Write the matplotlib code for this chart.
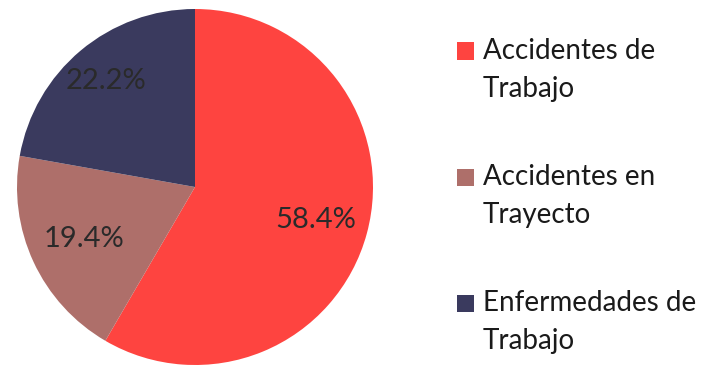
import matplotlib
matplotlib.use("Agg")
import matplotlib.pyplot as plt
from matplotlib.patches import Rectangle
import numpy as np

categories = ["Accidentes de\nTrabajo", "Accidentes en\nTrayecto", "Enfermedades de\nTrabajo"]
values = [58.4, 19.4, 22.2]
colors = ["#FE4440", "#AE6F6A", "#3A3A5E"]

plt.rcParams['font.family'] = ['Lato', 'DejaVu Sans']

W, H = 710, 368
fig = plt.figure(figsize=(W / 100, H / 100), dpi=100)
fig.patch.set_facecolor("white")
ax = fig.add_axes([17 / W, 3 / H, 356 / W, 356 / H])

wedges, texts, autotexts = ax.pie(
    values, colors=colors, startangle=90, counterclock=False,
    autopct=lambda p: f"{p:.1f}%", pctdistance=0.72,
    textprops=dict(fontsize=21, color="#2a2a2a"),
    wedgeprops=dict(linewidth=0),
)
# per-label radial distances
dists = [0.70, 0.69, 0.78]
total = sum(values)
cum = 0
for t, v, d in zip(autotexts, values, dists):
    mid = np.deg2rad(90 - (cum + v / 2) / total * 360)
    t.set_position((d * np.cos(mid), d * np.sin(mid)))
    cum += v
ax.set_xlim(-1, 1)
ax.set_ylim(-1, 1)
ax.set_aspect("equal")
ax.axis("off")

# legend drawn manually (marker aligned with first text line)
y0, step = 51, 126
for i, (lab, c) in enumerate(zip(categories, colors)):
    yc = y0 + i * step
    fig.patches.append(Rectangle((457 / W, 1 - (yc + 8.5) / H), 17 / W, 17 / H,
                                 transform=fig.transFigure, facecolor=c, edgecolor="none"))
    fig.text(483 / W, 1 - (yc - 13) / H, lab, fontsize=20, color="#1a1a1a",
             ha="left", va="top", linespacing=1.58)

fig.savefig("out.png", dpi=100, facecolor="white")
